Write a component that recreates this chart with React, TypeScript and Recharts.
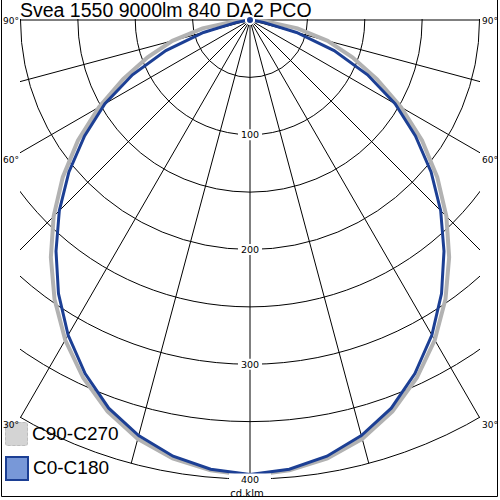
import React from 'react';
import { RadarChart, Radar, PolarGrid, PolarAngleAxis, PolarRadiusAxis, Legend } from 'recharts';

// gamma angles (deg from nadir) and intensities in cd/klm
const gammas = [0, 5, 10, 15, 20, 25, 30, 35, 40, 45, 50, 55, 60, 65, 70, 75, 80, 85, 90];
const c0 = [396, 393, 386, 375, 360, 340, 317, 291, 263, 235, 206, 176, 146, 113, 78, 42, 12, 2, 0];
const c180 = [396, 393, 386, 375, 360, 340, 317, 291, 263, 235, 206, 176, 146, 113, 78, 42, 12, 2, 0];
const c90 = [397, 394, 388, 378, 363, 344, 322, 297, 270, 242, 213, 183, 152, 122, 95, 70, 42, 14, 0];
const c270 = [397, 394, 388, 378, 363, 344, 322, 297, 270, 242, 213, 183, 152, 122, 95, 70, 42, 14, 0];

const gridGammas = [0, 15, 30, 45, 60, 75, 90];
const radiusLabels = [100, 200, 300, 400];
const seriesNames = ['C90-C270', 'C0-C180'];
const seriesColors = ['#b2b2b2', '#1c3f94'];

// right half = C0 / C90, left half = C180 / C270
const data = [
  ...gammas.map((g, i) => ({ t: g, blue: c0[i], gray: c90[i] })),
  ...gammas
    .map((g, i) => ({ t: 360 - g, blue: c180[i], gray: c270[i] }))
    .filter((d) => d.t < 360)
    .reverse(),
];

const polarAngles = Array.from(new Set(gridGammas.flatMap((g) => [-90 + g, -90 - g])));

const smallFont = '"DejaVu Sans", Verdana, sans-serif';
const bigFont = '"Liberation Sans", Arial, sans-serif';

const RadiusTick = (props: any) => {
  const { x, y, payload } = props;
  if (!radiusLabels.includes(payload.value)) return <g />;
  const w = payload.value === 400 ? 42 : 24;
  return (
    <g>
      <rect x={x - w / 2} y={y - 5.5} width={w} height={11} fill="#fff" />
      <text x={x} y={y + 3.5} textAnchor="middle" fontSize={9.5} fontFamily={smallFont} fill="#000">
        {payload.value}
      </text>
    </g>
  );
};

const renderLegend = () => (
  <div style={{ fontFamily: bigFont }}>
    {seriesNames.map((name, i) => (
      <div key={name} style={{ display: 'flex', alignItems: 'center', height: 24, marginBottom: 10 }}>
        <div
          style={{
            width: i === 0 ? 21 : 20,
            height: i === 0 ? 22 : 21,
            marginLeft: 5,
            background: i === 0 ? '#d4d4d4' : '#7898d8',
            border: i === 0 ? '1px dashed #bcbcbc' : '2px solid ' + seriesColors[i],
            borderRadius: i === 0 ? 3 : 0,
          }}
        />
        <span style={{ fontSize: 19, lineHeight: '24px', marginLeft: 4, color: '#000' }}>{name}</span>
      </div>
    ))}
  </div>
);

const angleLabels = [
  { text: '90°', y: 23.5 },
  { text: '60°', y: 163 },
  { text: '30°', y: 428 },
];

export default function App() {
  return (
    <div style={{ position: 'absolute', left: 0, top: 0, width: 500, height: 500, background: '#fff', overflow: 'hidden' }}>
      <style>{`.recharts-polar-grid, .recharts-radar { clip-path: url(#boxclip); }`}</style>
      <svg width={0} height={0} style={{ position: 'absolute' }}>
        <defs>
          <clipPath id="boxclip">
            <rect x={20} y={19} width={460} height={462} />
          </clipPath>
        </defs>
      </svg>
      <div
        style={{
          position: 'absolute',
          left: 20,
          top: 0.5,
          fontFamily: bigFont,
          fontSize: 19.5,
          lineHeight: '19.5px',
          color: '#000',
          whiteSpace: 'nowrap',
        }}
      >
        Svea 1550 9000lm 840 DA2 PCO
      </div>
      <div style={{ position: 'absolute', left: 0, top: 0 }}>
        <RadarChart
          width={500}
          height={500}
          data={data}
          cx={250}
          cy={20}
          innerRadius={0}
          outerRadius={459}
          startAngle={-90}
          endAngle={270}
          margin={{ top: 0, right: 0, bottom: 0, left: 0 }}
        >
          <PolarGrid gridType="circle" polarAngles={polarAngles} stroke="#000" strokeWidth={1} />
          <PolarAngleAxis dataKey="t" type="number" domain={[0, 360]} tick={false} axisLine={false} />
          <PolarRadiusAxis
            angle={-90}
            type="number"
            domain={[0, 400]}
            tickCount={9}
            axisLine={false}
            tickLine={false}
            tick={<RadiusTick />}
          />
          <Radar
            name={seriesNames[0]}
            dataKey="gray"
            stroke={seriesColors[0]}
            strokeWidth={4}
            fill="none"
            fillOpacity={0}
            dot={false}
            isAnimationActive={false}
          />
          <Radar
            name={seriesNames[1]}
            dataKey="blue"
            stroke={seriesColors[1]}
            strokeWidth={3}
            fill="none"
            fillOpacity={0}
            dot={false}
            isAnimationActive={false}
          />
          <Legend
            layout="vertical"
            align="center"
            verticalAlign="middle"
            content={renderLegend}
            wrapperStyle={{ left: 0, top: 422, width: 140 }}
          />
        </RadarChart>
      </div>
      <svg width={500} height={500} style={{ position: 'absolute', left: 0, top: 0, pointerEvents: 'none' }}>
        {angleLabels.map((l) => (
          <g key={l.text}>
            <text x={3} y={l.y} fontSize={9} fontFamily={smallFont} fill="#000">
              {l.text}
            </text>
            <text x={482} y={l.y} fontSize={9} fontFamily={smallFont} fill="#000">
              {l.text}
            </text>
          </g>
        ))}
        <text x={247} y={497} textAnchor="middle" fontSize={10} fontFamily={smallFont} fill="#000">
          cd.klm
        </text>
        <polyline points="1.5,0 1.5,496.5 497.5,496.5 497.5,0" fill="none" stroke="#000" strokeWidth={1} />
      </svg>
    </div>
  );
}
